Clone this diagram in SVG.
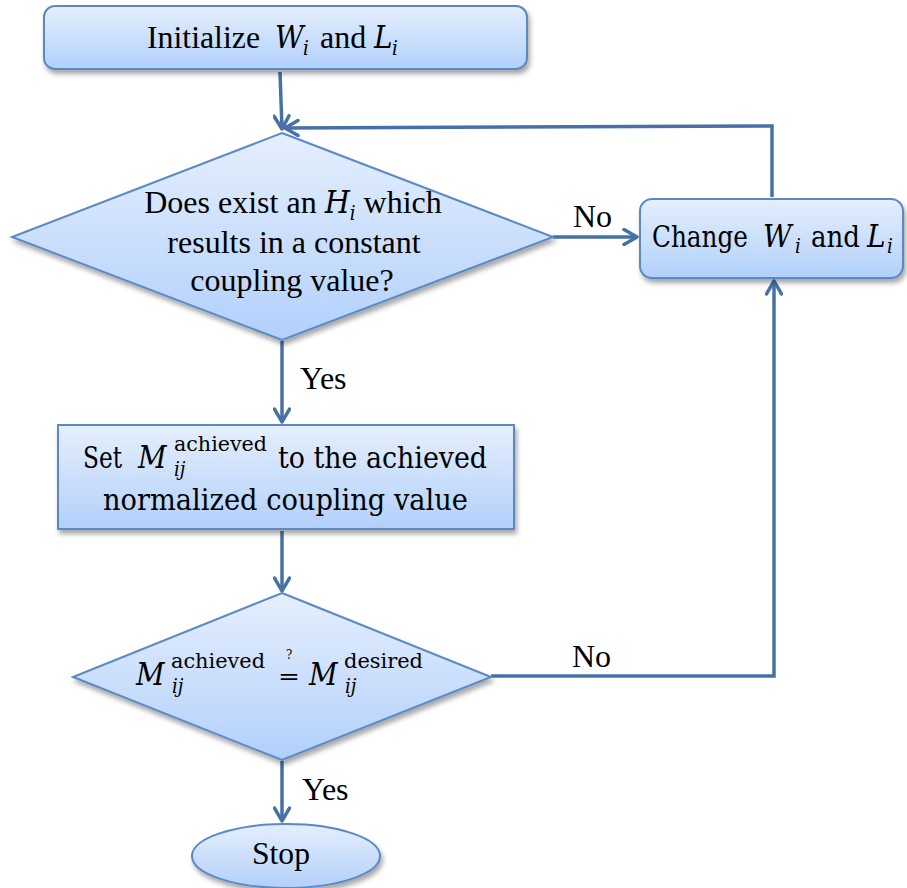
<svg xmlns="http://www.w3.org/2000/svg" width="907" height="888" viewBox="0 0 907 888">
<defs>
<linearGradient id="g" x1="0" y1="0" x2="0" y2="1">
<stop offset="0" stop-color="#e5effd"/>
<stop offset="1" stop-color="#b2d0fb"/>
</linearGradient>
<filter id="sh" x="-10%" y="-10%" width="130%" height="140%">
<feDropShadow dx="2" dy="4" stdDeviation="2.5" flood-color="#000" flood-opacity="0.35"/>
</filter>
<marker id="ah" viewBox="0 0 18 18" refX="15" refY="9" markerWidth="18" markerHeight="18" markerUnits="userSpaceOnUse" orient="auto">
<path d="M2,1.5 L15,9 L2,16.5" fill="none" stroke="#4771a5" stroke-width="3.5" stroke-linecap="round" stroke-linejoin="round"/>
</marker>
</defs>
<style>
.n{fill:url(#g);stroke:#5a89c5;stroke-width:2;filter:url(#sh)}
.c{fill:none;stroke:#4771a5;stroke-width:3.5}
.t{font-family:"Liberation Serif",serif;font-size:32px;fill:#000}
.cb{font-family:"DejaVu Serif Condensed","DejaVu Serif",serif;font-size:30px;fill:#000}
.mi{font-family:"DejaVu Serif Condensed","DejaVu Serif",serif;font-size:31px;font-style:italic;fill:#000}
.ms{font-family:"DejaVu Serif Condensed","DejaVu Serif",serif;font-size:20px;fill:#000}
.msi{font-family:"DejaVu Serif Condensed","DejaVu Serif",serif;font-size:20px;font-style:italic;fill:#000}
.ti{font-family:"DejaVu Serif Condensed","DejaVu Serif",serif;font-style:italic}
.sub{font-family:"DejaVu Serif Condensed","DejaVu Serif",serif;font-style:italic;font-size:20px}
</style>
<g id="connectors">
<path class="c" d="M280,72 L282,129" marker-end="url(#ah)"/>
<path class="c" d="M772,197 L772,126 L285,128" marker-end="url(#ah)"/>
<path class="c" d="M553,237 L637,237" marker-end="url(#ah)"/>
<path class="c" d="M282,341 L282,422" marker-end="url(#ah)"/>
<path class="c" d="M282,531 L282,591" marker-end="url(#ah)"/>
<path class="c" d="M491,676 L774,676 L774,281" marker-end="url(#ah)"/>
<path class="c" d="M282,761 L282,821" marker-end="url(#ah)"/>
<text class="t" x="573" y="227">No</text>
<text class="t" x="572" y="667">No</text>
<text class="t" x="300" y="389">Yes</text>
<text class="t" x="302" y="800">Yes</text>
</g>
<g id="init">
<rect class="n" x="44" y="6" width="483" height="63" rx="11"/>
<text class="t" x="147" y="48" textLength="113" lengthAdjust="spacingAndGlyphs">Initialize</text>
<text class="mi" x="275" y="48">W</text>
<text class="msi" x="303" y="55">i</text>
<text class="t" x="320" y="48">and</text>
<text class="mi" x="374" y="48">L</text>
<text class="msi" x="392" y="55">i</text>
</g>
<g id="decision1">
<polygon class="n" points="282,133 553,237 282,340 12,237"/>
<text class="t" x="293" y="213" text-anchor="middle">Does exist an <tspan class="ti">H</tspan><tspan class="sub" dy="7">i</tspan><tspan dy="-7"> which</tspan></text>
<text class="t" x="294" y="253" text-anchor="middle">results in a constant</text>
<text class="t" x="292" y="291" text-anchor="middle">coupling value?</text>
</g>
<g id="change">
<rect class="n" x="640" y="199" width="263" height="79" rx="12"/>
<text class="cb" x="652" y="247" textLength="96" lengthAdjust="spacingAndGlyphs">Change</text>
<text class="mi" x="763" y="247">W</text>
<text class="msi" x="795" y="253">i</text>
<text class="cb" x="811" y="247" textLength="49" lengthAdjust="spacingAndGlyphs">and</text>
<text class="mi" x="867" y="247">L</text>
<text class="msi" x="887" y="253">i</text>
</g>
<g id="set">
<rect class="n" x="58" y="425" width="456" height="104"/>
<text class="cb" x="83" y="468" textLength="39" lengthAdjust="spacingAndGlyphs">Set</text>
<text class="mi" x="138" y="468">M</text>
<text class="ms" x="174" y="451" textLength="93" lengthAdjust="spacingAndGlyphs">achieved</text>
<text class="msi" x="174" y="476">ij</text>
<text class="cb" x="278" y="468" textLength="209" lengthAdjust="spacingAndGlyphs">to the achieved</text>
<text class="cb" x="103" y="510" textLength="365" lengthAdjust="spacingAndGlyphs">normalized coupling value</text>
</g>
<g id="decision2">
<polygon class="n" points="282,593 491,677 282,760 73,677"/>
<text class="mi" x="136" y="685">M</text>
<text class="ms" x="171" y="668" textLength="94" lengthAdjust="spacingAndGlyphs">achieved</text>
<text class="msi" x="172" y="693">ij</text>
<text class="ms" x="286" y="659" style="font-size:13px">?</text>
<text class="ms" x="278" y="684" style="font-size:22px" textLength="22" lengthAdjust="spacingAndGlyphs">=</text>
<text class="mi" x="309" y="685">M</text>
<text class="ms" x="344" y="668" textLength="79" lengthAdjust="spacingAndGlyphs">desired</text>
<text class="msi" x="345" y="693">ij</text>
</g>
<g id="stop">
<ellipse class="n" cx="286" cy="856" rx="94" ry="32"/>
<text class="t" x="252" y="864" textLength="58" lengthAdjust="spacingAndGlyphs">Stop</text>
</g>
</svg>
